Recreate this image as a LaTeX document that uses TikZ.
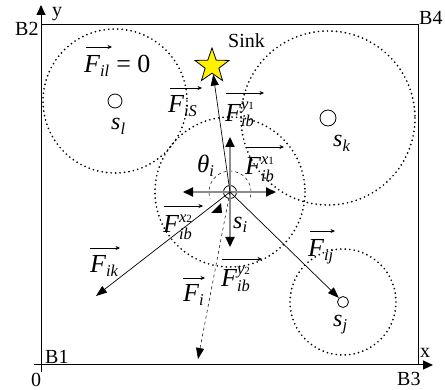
\documentclass[tikz,border=0pt]{standalone}
\usepackage{fontspec}
\setmainfont{Liberation Serif}
\usetikzlibrary{arrows.meta,shapes.geometric,calc}
\newcommand{\sm}[1]{\hbox{\fontsize{16.5}{16.5}\selectfont\itshape #1}}
\newcommand{\tn}[1]{\hbox{\fontsize{11}{11}\selectfont #1}}
\newcommand{\Fv}{\hbox{\fontsize{26}{28}\selectfont\itshape F}}
\newcommand{\ovar}[4]{\draw[ovarr] ($(#1.base west)+(#2,#3)$) -- ++(#4,0);}
\begin{document}
\begin{tikzpicture}[x=1pt,y=-1pt,font=\fontsize{20}{24}\selectfont,
  lbl/.style={inner sep=0pt,anchor=base west},
  big/.style={font=\fontsize{26}{28}\selectfont},
  ovarr/.style={-{Stealth[length=4.5pt,width=4pt]},line width=0.6pt},
  force/.style={-{Triangle[length=11pt,width=8pt]},line width=0.7pt},
  axis/.style={line width=1pt,-{Triangle[length=10pt,width=9pt]}},
  dotc/.style={line width=1.9pt,line cap=round,dash pattern=on 0pt off 4.5pt},
  grayarr/.style={draw=gray!90,line width=2pt,-{Triangle[length=10pt,width=9pt,black]}},
  sensor/.style={circle,draw,line width=0.8pt,inner sep=0pt,minimum size=#1},
]
\useasboundingbox (0,0) rectangle (445,390);
% box and axes
\coordinate (B1) at (41,365);
\coordinate (B2) at (41,25);
\coordinate (B3) at (418,365);
\coordinate (B4) at (418,25);
\coordinate (ybot) at (41,372);
\coordinate (ytop) at (41,5);
\coordinate (xleft) at (34,365);
\coordinate (xright) at (433,365);
\draw[line width=1pt] (B2) -- (B4) -- (B3);
\draw[axis] (ybot) -- (ytop);
\draw[axis] (xleft) -- (xright);
% sensors
\node[sensor=13pt] (si) at (230,192) {};
\node[sensor=14pt] (sl) at (115,101) {};
\node[sensor=16pt] (sk) at (328,118) {};
\node[sensor=11pt] (sj) at (343,302) {};
% dotted ranges
\draw[dotc] (sl.center) circle[radius=72];
\draw[dotc] (sk.center) circle[radius=87];
\draw[dotc] (si.center) circle[radius=75];
\draw[dotc] (sj.center) circle[radius=53];
% star sink
\node[star,star points=5,star point ratio=2.5,minimum size=36pt,draw,fill=yellow,inner sep=0pt,line width=0.8pt] (star) at (212,66) {};
% angle arc
\draw[dashed,line width=0.5pt] ([shift={(15:21)}]si.center) arc[start angle=15,end angle=-200,radius=21];
% gray cross
\coordinate (gu) at (230,137);
\coordinate (gd) at (230,247);
\coordinate (gl) at (183,192);
\coordinate (gr) at (276,192);
\draw[grayarr] (si.center) -- (gu);
\draw[grayarr] (si.center) -- (gd);
\draw[grayarr] (si.center) -- (gl);
\draw[grayarr] (si.center) -- (gr);
% forces
\coordinate (ikend) at (96,296);
\coordinate (fiend) at (198,359);
\draw[force] (si.center) -- (star);
\draw[force] (si.center) -- (ikend);
\draw[force] (si.center) -- (sj);
\draw[force,dashed,line width=0.5pt] (si.center) -- (fiend);
\fill (221,203) -- (211,213) -- (222,213) -- cycle;
% labels
\node[lbl,big] (Fil) at (84,73) {$\Fv_{\sm{il}}$\ = 0};
\ovar{Fil}{2}{-26}{26}
\node[lbl,big] (FiS) at (168,113) {$\Fv_{\sm{iS}}$};
\ovar{FiS}{2}{-25}{32}
\node[lbl,big] (Fy1) at (225,122) {$\Fv_{\sm{ib}}^{\sm{y}\tn{1}}$};
\ovar{Fy1}{1}{-29}{38}
\node[lbl,big] (Fx1) at (245,175) {$\Fv_{\sm{ib}}^{\sm{x}\tn{1}}$};
\ovar{Fx1}{1}{-28}{38}
\node[lbl,big] (Fx2) at (163,233) {$\Fv_{\sm{ib}}^{\sm{x}\tn{2}}$};
\ovar{Fx2}{1}{-27}{39}
\node[lbl,big] (Fik) at (90,273) {$\Fv_{\sm{ik}}$};
\ovar{Fik}{0}{-25}{30}
\node[lbl,big] (Fi) at (183,302) {$\Fv_{\sm{i}}$};
\ovar{Fi}{0}{-24}{22}
\node[lbl,big] (Fy2) at (221,287) {$\Fv_{\sm{ib}}^{\sm{y}\tn{2}}$};
\ovar{Fy2}{1}{-28}{40}
\node[lbl,big] (Fij) at (308,257) {$\Fv_{\sm{ij}}$};
\ovar{Fij}{2}{-26}{25}
\node[lbl] (theta) at (197,173) {$\hbox{\fontsize{25}{28}\selectfont\itshape θ}_{\sm{i}}$};
\node[lbl] (lsi) at (233,229) {$\hbox{\fontsize{24}{28}\selectfont\itshape s}_{\sm{i}}$};
\node[lbl] (lsl) at (111,130) {$\hbox{\fontsize{24}{28}\selectfont\itshape s}_{\sm{l}}$};
\node[lbl] (lsk) at (333,147) {$\hbox{\fontsize{24}{28}\selectfont\itshape s}_{\sm{k}}$};
\node[lbl] (lsj) at (333,327) {$\hbox{\fontsize{24}{28}\selectfont\itshape s}_{\sm{j}}$};
\node[lbl] (sink) at (228,48) {Sink};
\node[lbl] (tB2) at (15,36) {B2};
\node[lbl] (ty) at (52,17) {y};
\node[lbl] (tB4) at (419,25) {B4};
\node[lbl] (tB1) at (45,363) {B1};
\node[lbl] (t0) at (31,387) {0};
\node[lbl] (tx) at (420,358) {x};
\node[lbl] (tB3) at (397,385) {B3};
\end{tikzpicture}
\end{document}
